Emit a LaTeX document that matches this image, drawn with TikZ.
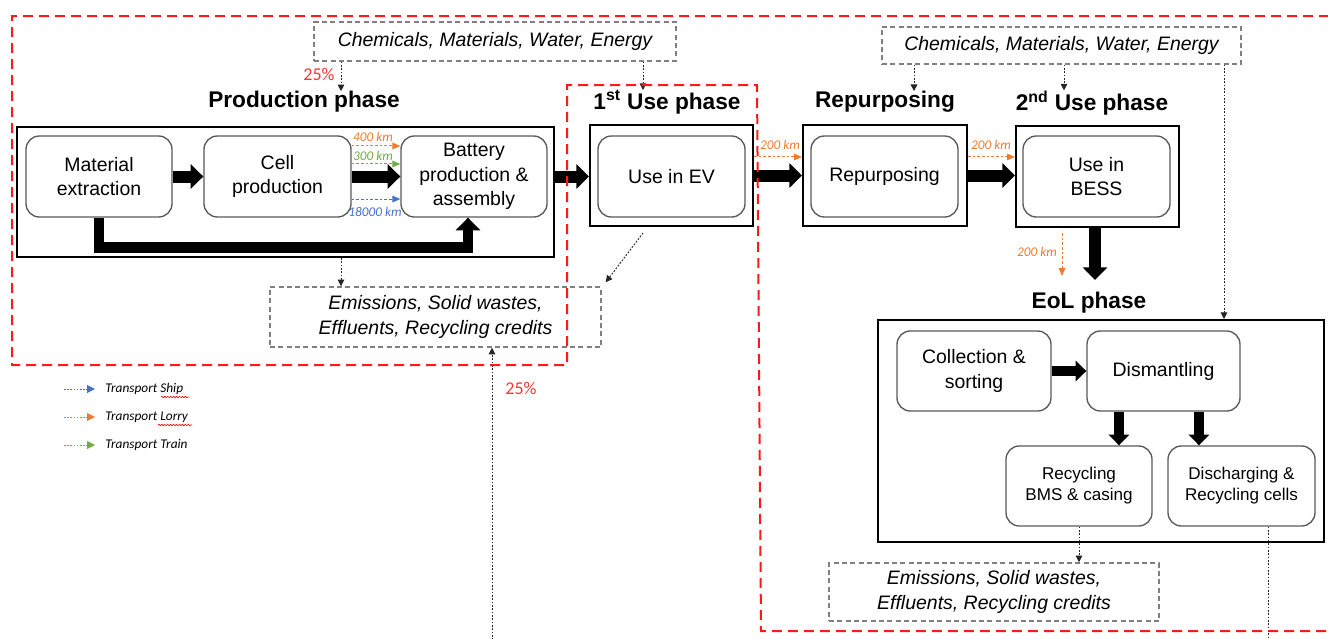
\documentclass[tikz,border=0pt]{standalone}
\usepackage{fontspec}
\setmainfont{Liberation Sans}
\newfontfamily\calfont{Carlito}
\usetikzlibrary{arrows.meta,decorations.pathmorphing,calc}

\definecolor{clorry}{HTML}{ED7D31}
\definecolor{ctrain}{HTML}{70AD47}
\definecolor{cship}{HTML}{4472C4}
\definecolor{cbound}{HTML}{FF1A1A}
\definecolor{cflow}{HTML}{7F7F7F}
\definecolor{cedge}{HTML}{595959}
\definecolor{cpct}{HTML}{FF3333}

\newcommand\txtbody{\fontsize{14.6}{18.5}\selectfont}
\newcommand\txtleaf{\fontsize{12.8}{15.8}\selectfont}
\newcommand\txttitle{\fontsize{17}{20}\selectfont\bfseries}
\newcommand\txtkm{\calfont\itshape\fontsize{10}{12}\selectfont}
\newcommand\txtpct{\calfont\fontsize{13.5}{16}\selectfont}

\tikzset{
  wh/.style 2 args={minimum width=#1*0.75pt, minimum height=#2*0.75pt},
  phasebox/.style={draw=black, line width=1.5pt, inner sep=0pt},
  stepbox/.style={draw=cedge, line width=1pt, rounded corners=10pt, align=center,
                  inner sep=0pt, fill=white, font=\txtbody},
  leafbox/.style={stepbox, font=\txtleaf},
  flowbox/.style={draw=cflow, line width=1.1pt, dash pattern=on 3.75pt off 2.5pt,
                  align=center, inner sep=0pt, font=\txtbody\itshape},
  phasetitle/.style={font=\txttitle, inner sep=0pt},
  bigarrow/.style={line width=9pt, -{Triangle[width=18pt,length=9.5pt]}},
  midarrow/.style={line width=7pt, -{Triangle[width=15pt,length=8pt]}},
  flow/.style={draw=black!85, line width=0.75pt, dash pattern=on 1.3pt off 1.2pt,
               -{Triangle[width=5pt,length=5pt]}},
  transport/.style={line width=0.75pt, dash pattern=on 2pt off 1.5pt,
                    -{Triangle[width=5pt,length=6pt]}},
  legendarrow/.style={line width=0.75pt, dash pattern=on 1.2pt off 1.2pt,
                      -{Triangle[width=6pt,length=6pt]}},
  kmlabel/.style={font=\txtkm, inner sep=0pt},
  legendtext/.style={font=\txtkm, inner sep=0pt, anchor=west},
  pcttext/.style={text=cpct, font=\txtpct, inner sep=0pt},
  squiggle/.style={draw=red, line width=0.45pt,
                   decorate, decoration={snake, amplitude=0.6pt, segment length=2.2pt}},
  boundary/.style={draw=cbound, line width=1.5pt, dash pattern=on 7.5pt off 4.5pt},
}

\begin{document}
\begin{tikzpicture}[x=0.75pt,y=-0.75pt]
\useasboundingbox (0,0) rectangle (1328,639);
\clip (0,0) rectangle (1328,639);

% ---------- phase titles ----------
\node[phasetitle] (tprod) at (304,102) {Production phase};
\node[phasetitle] (tuse1) at (667,102) {1\textsuperscript{st} Use phase};
\node[phasetitle] (trep)  at (885,102) {Repurposing};
\node[phasetitle] (tuse2) at (1092,103) {2\textsuperscript{nd} Use phase};
\node[phasetitle] (teol)  at (1089,303) {EoL phase};

% ---------- phase frames ----------
\node[phasebox, wh={537}{130}] (prod) at (285.5,192) {};
\node[phasebox, wh={163}{101}] (use1) at (671.5,175.5) {};
\node[phasebox, wh={164}{101}] (rep)  at (885,175.5) {};
\node[phasebox, wh={163}{101}] (use2) at (1097.5,176.5) {};
\node[phasebox, wh={446}{222}] (eol)  at (1101,431) {};

% ---------- process steps ----------
\node[stepbox, wh={146}{81}] (mat)   at (99,176.5)    {Material\\extraction};
\node[stepbox, wh={147}{81}] (cell)  at (277.5,176.5)  {Cell\\production};
\node[stepbox, wh={146}{81}] (bat)   at (474,176.5)    {Battery\\production \&\\assembly};
\node[stepbox, wh={147}{81}] (ev)    at (671.5,176.5)  {Use in EV};
\node[stepbox, wh={147}{81}] (repin) at (884.5,176.5)  {Repurposing};
\node[stepbox, wh={147}{81}] (bess)  at (1096.5,176.5) {Use in\\BESS};
\node[stepbox, wh={154}{80}] (coll)  at (974,371)      {Collection \&\\sorting};
\node[stepbox, wh={153}{80}] (dism)  at (1163.5,371)   {Dismantling};
\node[leafbox, wh={146}{80}] (rbms)  at (1079,486)     {Recycling\\BMS \& casing};
\node[leafbox, wh={147}{80}] (dis)   at (1241.5,486)   {Discharging \&\\Recycling cells};

% ---------- input / output flows ----------
\node[flowbox, wh={362}{39}] (in1) at (495,41.5)   {Chemicals, Materials, Water, Energy};
\node[flowbox, wh={359}{37}] (in2) at (1061.5,45.5) {Chemicals, Materials, Water, Energy};
\node[flowbox, wh={331}{60}] (em1) at (435.5,317)  {Emissions, Solid wastes,\\Effluents, Recycling credits};
\node[flowbox, wh={330}{58}] (em2) at (994,592)    {Emissions, Solid wastes,\\Effluents, Recycling credits};

% ---------- main material flow ----------
\draw[bigarrow] (mat) -- (cell);
\draw[bigarrow] (cell) -- (bat);
\draw[bigarrow, line width=8pt] (mat.south) -- ++(0,30) -| ([xshift=-4.5pt]bat.south);
\draw[bigarrow] (prod.east |- bat.east) -- (use1.west |- bat.east);
\draw[bigarrow] (use1.east) -- (rep.west);
\draw[bigarrow] (rep.east) -- (use2.west |- rep.east);
\coordinate (eolin) at (1095,280);
\draw[bigarrow] (use2.south -| eolin) -- (eolin);
\draw[midarrow] (coll) -- (dism);
\draw[midarrow] ([xshift=-33.4pt]dism.south) -- ([xshift=-33.4pt]dism.south |- rbms.north);
\draw[midarrow] ([xshift=26.6pt]dism.south) -- ([xshift=26.6pt]dism.south |- dis.north);

% ---------- dotted inventory links ----------
\coordinate (colA) at (341,0);
\coordinate (colB) at (643,0);
\coordinate (colC) at (914,0);
\coordinate (colD) at (1064,0);
\coordinate (colE) at (1224,0);
\draw[flow] (in1.south -| colA) -- (tprod.north -| colA);
\draw[flow] (in1.south -| colB) -- (tuse1.north -| colB);
\draw[flow] (prod.south -| colA) -- (em1.north -| colA);
\draw[flow] ([shift={(-21.4pt,-4.5pt)}]use1.south) -- ([shift={(3pt,3pt)}]em1.north east);
\draw[flow] (in2.south -| colC) -- (trep.north -| colC);
\draw[flow] (in2.south -| colD) -- (tuse2.north -| colD);
\draw[flow] (in2.south -| colE) -- (eol.north -| colE);
\draw[flow] (rbms.south) -- (em2.north -| rbms.south);
\coordinate (outR) at (1268,650);
\draw[flow, -] (dis.south -| outR) -- (outR);
\coordinate (inL) at (492,650);
\draw[flow] (inL) -- (em1.south -| inL);

\node[pcttext] (p1) at (319,74) {25\%};
\node[pcttext] (p2) at (521,388) {25\%};

% ---------- transport legs ----------
\draw[transport, clorry] ([yshift=22.9pt]cell.east) -- ([yshift=22.9pt]bat.west);
\draw[transport, ctrain] ([yshift=9.4pt]cell.east) -- ([yshift=9.4pt]bat.west);
\draw[transport, cship]  ([yshift=-16.9pt]cell.east) -- ([yshift=-16.9pt]bat.west);
\node[kmlabel, text=clorry] (km1) at (373,137) {400 km};
\node[kmlabel, text=ctrain] (km2) at (373,156) {300 km};
\node[kmlabel, text=cship]  (km3) at (375,212) {18000 km};

\coordinate (t1) at ([yshift=13.9pt]use1.east);
\draw[transport, clorry] (t1) -- (t1 -| rep.west);
\node[kmlabel, text=clorry] (km4) at (780,145) {200 km};
\coordinate (t2) at ([yshift=13.9pt]rep.east);
\draw[transport, clorry] (t2) -- (t2 -| use2.west);
\node[kmlabel, text=clorry] (km5) at (991,145) {200 km};
\coordinate (t3s) at (1062,233);
\coordinate (t3e) at (1062,276);
\draw[transport, clorry] (t3s) -- (t3e);
\node[kmlabel, text=clorry] (km6) at (1037,252) {200 km};

% ---------- legend ----------
\node[legendtext] (lship)  at (105,389) {Transport Ship};
\node[legendtext] (llorry) at (105,417) {Transport Lorry};
\node[legendtext] (ltrain) at (105,445) {Transport Train};
\draw[legendarrow, cship]  ([xshift=-30.75pt]lship.west)  -- ([xshift=-7.5pt]lship.west);
\draw[legendarrow, clorry] ([xshift=-30.75pt]llorry.west) -- ([xshift=-7.5pt]llorry.west);
\draw[legendarrow, ctrain] ([xshift=-30.75pt]ltrain.west) -- ([xshift=-7.5pt]ltrain.west);
\draw[squiggle] (161,397) -- (189,397);
\draw[squiggle] (158,425) -- (192,425);

% ---------- system boundary ----------
\draw[boundary] (1345,16) -- (12,16) -- (12,365) -- (567,365) -- (567,85)
  -- (757,85) -- (761,631) -- (1345,631);
\end{tikzpicture}
\end{document}
